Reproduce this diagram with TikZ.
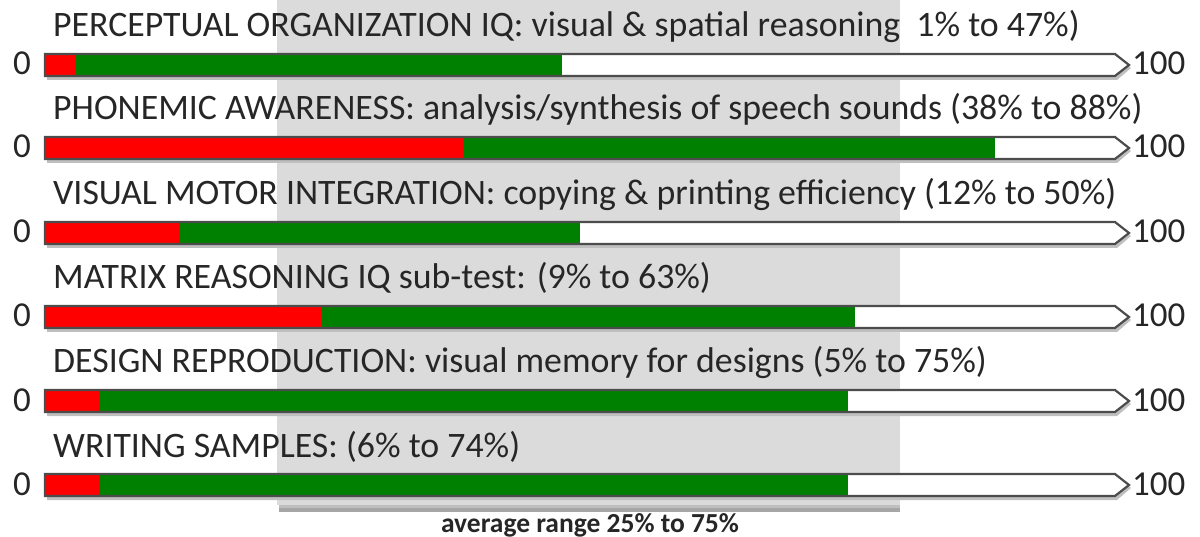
\documentclass[tikz,border=0pt]{standalone}
\usepackage{fontspec}
\setmainfont{Carlito}
\begin{document}
\begin{tikzpicture}[x=1pt,y=-1pt,
  lbl/.style={anchor=base west,inner sep=0pt,font=\fontsize{35.8}{38}\selectfont,text=black!85},
  endlbl/.style={inner sep=0pt,font=\fontsize{35}{38}\selectfont,text=black!85},
  barframe/.style={draw=black!70,line width=2.2pt},
]
\useasboundingbox (0,0) rectangle (1200,537);
% grey average band with shadow
\fill[black!35] (279,503) rectangle (900,512);
\fill[black!25] (279,503) rectangle (900,508);
\fill[black!14] (277,0) rectangle (900,505);
\node[anchor=base,inner sep=0pt,font=\bfseries\fontsize{27.5}{30}\selectfont,text=black!85] (avg) at (590,532) {average range 25\% to 75\%};
% bars
\foreach \i/\yc/\r/\g/\t in {
 1/65/75/562/{PERCEPTUAL ORGANIZATION IQ: visual \& spatial reasoning\ \ 1\% to 47\%)},
 2/148/463/995/{PHONEMIC AWARENESS: analysis/synthesis of speech sounds (38\% to 88\%)},
 3/233/180/580/{VISUAL MOTOR INTEGRATION: copying \& printing efficiency (12\% to 50\%)},
 4/317/322/855/{MATRIX REASONING IQ sub-test: (9\% to 63\%)},
 5/401/100/848/{DESIGN REPRODUCTION: visual memory for designs (5\% to 75\%)},
 6/485/100/848/{WRITING SAMPLES: (6\% to 74\%)}}{
  % shadow
  \fill[black!25] (47,\yc-9) -- (1117,\yc-9) -- (1131,\yc+3) -- (1117,\yc+15) -- (47,\yc+15) -- cycle;
  \fill[white] (45,\yc-11) -- (1115,\yc-11) -- (1129,\yc) -- (1115,\yc+11) -- (45,\yc+11) -- cycle;
  \fill[red] (45,\yc-11) rectangle (\r,\yc+11);
  \fill[green!50!black] (\r,\yc-11) rectangle (\g,\yc+11);
  \draw[barframe] (45,\yc-11) coordinate (b\i) -- (1115,\yc-11) -- (1129,\yc) coordinate (t\i) -- (1115,\yc+11) -- (45,\yc+11) -- cycle;
  \node[lbl] (l\i) at (53,\yc-28) {\t};
  \node[endlbl,anchor=base east] (z\i) at (31,\yc+10) {0};
  \node[endlbl,anchor=base west] (h\i) at (1132,\yc+10) {100};
}
\end{tikzpicture}
\end{document}
